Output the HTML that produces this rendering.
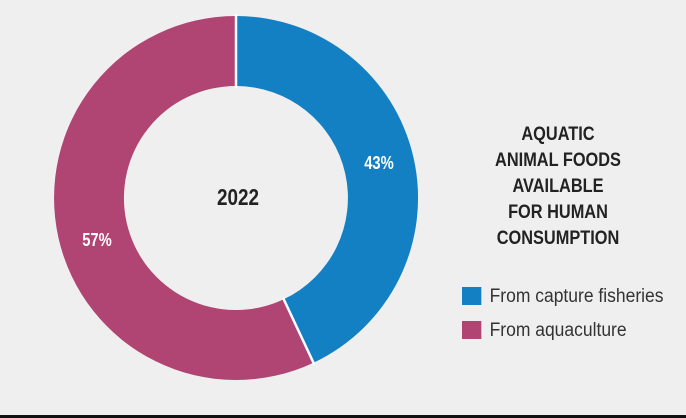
<!DOCTYPE html>
<html><head><meta charset="utf-8"><style>
html,body{margin:0;padding:0;background:#efefef;}
body{width:686px;height:418px;position:relative;overflow:hidden;font-family:"Liberation Sans",sans-serif;}
.t{position:absolute;left:463px;width:190px;text-align:center;font-weight:bold;font-size:19px;color:#222;line-height:26px;top:122px;transform:scaleX(0.86);transform-origin:95px 0;}
.lg{position:absolute;left:462px;font-size:19px;color:#333;transform:scaleX(0.92);transform-origin:0 0;white-space:nowrap;}
.sq{display:inline-block;width:21px;height:18px;vertical-align:-3px;margin-right:9px;}
.lab{position:absolute;width:100px;text-align:center;font-weight:bold;transform:scaleX(0.82);}
.line{position:absolute;left:0;top:415px;width:686px;height:3px;background:#111;}
</style></head><body>
<svg width="686" height="418" style="position:absolute;left:0;top:0">
<path d="M236,16 A182,182 0 0 1 313.5,362.7 L283.7,299.3 A112,112 0 0 0 236,86 Z" fill="#1380c4"/>
<path d="M313.5,362.7 A182,182 0 1 1 236,16 L236,86 A112,112 0 1 0 283.7,299.3 Z" fill="#b04473"/>
<line x1="236" y1="14" x2="236" y2="88" stroke="#fff" stroke-width="2.5"/>
<line x1="314.3" y1="364.5" x2="282.9" y2="297.5" stroke="#fff" stroke-width="2.5"/>
</svg>
<div class="lab" style="left:188px;top:184px;font-size:23px;color:#222">2022</div>
<div class="lab" style="left:329px;top:153px;font-size:18px;color:#fff">43%</div>
<div class="lab" style="left:47px;top:230px;font-size:18px;color:#fff">57%</div>
<div class="t">AQUATIC<br>ANIMAL FOODS<br>AVAILABLE<br>FOR HUMAN<br>CONSUMPTION</div>
<div class="lg" style="top:286px"><span class="sq" style="background:#1380c4"></span>From capture fisheries</div>
<div class="lg" style="top:320px"><span class="sq" style="background:#b04473"></span>From aquaculture</div>
<div class="line"></div>
</body></html>
